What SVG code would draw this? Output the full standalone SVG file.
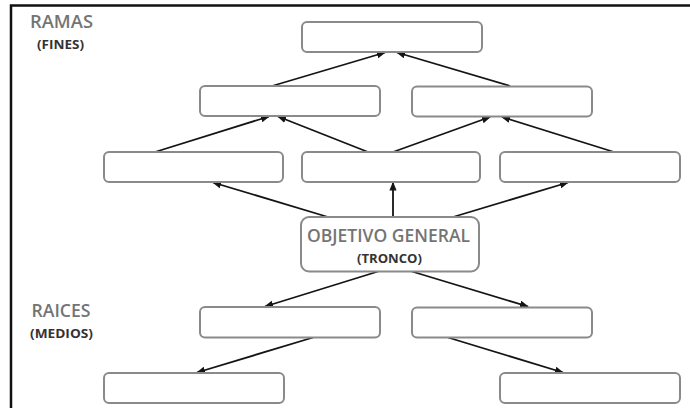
<svg xmlns="http://www.w3.org/2000/svg" width="690" height="408" viewBox="0 0 690 408">
  <style>
    .box { fill: #ffffff; stroke: #8a8a8a; stroke-width: 2; }
    .link { stroke: #141414; stroke-width: 1.8; fill: none; marker-end: url(#head); }
    .title { font-family: "Open Sans", Lato, sans-serif; font-weight: 600; fill: #747474; }
    .sub { font-family: "Open Sans", Lato, sans-serif; font-weight: bold; fill: #333333; }
  </style>
  <defs>
    <marker id="head" viewBox="0 0 10 10" refX="9" refY="5" markerWidth="5" markerHeight="5" markerUnits="strokeWidth" orient="auto">
      <path d="M0,1 L10,5 L0,9 Z" fill="#141414"/>
    </marker>
  </defs>
  <rect width="690" height="408" fill="#ffffff"/>

  <!-- frame (top and left edges) -->
  <path d="M11,408 V5.5 H690" fill="none" stroke="#111111" stroke-width="2.5"/>

  <!-- side labels -->
  <g id="label-ramas">
    <text class="title" x="30" y="27.5" font-size="18" textLength="63" lengthAdjust="spacingAndGlyphs">RAMAS</text>
    <text class="sub" x="37" y="48.5" font-size="13" textLength="47" lengthAdjust="spacingAndGlyphs">(FINES)</text>
  </g>
  <g id="label-raices">
    <text class="title" x="31.5" y="317" font-size="18" textLength="59" lengthAdjust="spacingAndGlyphs">RAICES</text>
    <text class="sub" x="30" y="338" font-size="13" textLength="63" lengthAdjust="spacingAndGlyphs">(MEDIOS)</text>
  </g>

  <!-- connectors -->
  <g id="connectors">
    <line class="link" x1="272" y1="86" x2="385" y2="52.5"/>
    <line class="link" x1="510" y1="86" x2="397" y2="52.5"/>
    <line class="link" x1="155" y1="152" x2="269" y2="116.5"/>
    <line class="link" x1="368" y1="152" x2="278" y2="116.5"/>
    <line class="link" x1="393" y1="152" x2="490" y2="117"/>
    <line class="link" x1="614" y1="152" x2="502" y2="117"/>
    <line class="link" x1="328" y1="217" x2="213" y2="182.5"/>
    <line class="link" x1="393" y1="217" x2="393" y2="182.5"/>
    <line class="link" x1="453" y1="217" x2="568" y2="182.5"/>
    <line class="link" x1="378" y1="271.5" x2="265" y2="306.5"/>
    <line class="link" x1="412" y1="271.5" x2="528" y2="306.5"/>
    <line class="link" x1="313" y1="337.5" x2="197" y2="372.5"/>
    <line class="link" x1="448" y1="337.5" x2="563" y2="372.5"/>
  </g>

  <!-- ends (top) -->
  <g id="fin-top"><rect class="box" x="302" y="22" width="180" height="30" rx="5"/></g>
  <g id="fin-2a"><rect class="box" x="200" y="86" width="180" height="30" rx="5"/></g>
  <g id="fin-2b"><rect class="box" x="412" y="86.5" width="180" height="30" rx="5"/></g>
  <g id="fin-3a"><rect class="box" x="104" y="152" width="179" height="30" rx="5"/></g>
  <g id="fin-3b"><rect class="box" x="302" y="152" width="178" height="30" rx="5"/></g>
  <g id="fin-3c"><rect class="box" x="500" y="152" width="180" height="30" rx="5"/></g>

  <!-- trunk -->
  <g id="objetivo-general">
    <rect class="box" x="301" y="217" width="178" height="54.5" rx="8"/>
    <text class="title" x="307" y="241.5" font-size="18" textLength="163" lengthAdjust="spacingAndGlyphs">OBJETIVO GENERAL</text>
    <text class="sub" x="357" y="262.5" font-size="13" textLength="65" lengthAdjust="spacingAndGlyphs">(TRONCO)</text>
  </g>

  <!-- means (roots) -->
  <g id="medio-1a"><rect class="box" x="200" y="307" width="180" height="30.5" rx="5"/></g>
  <g id="medio-1b"><rect class="box" x="412" y="307.5" width="180" height="30" rx="5"/></g>
  <g id="medio-2a"><rect class="box" x="104" y="373" width="180" height="30" rx="5"/></g>
  <g id="medio-2b"><rect class="box" x="500" y="373" width="180" height="30" rx="5"/></g>
</svg>
